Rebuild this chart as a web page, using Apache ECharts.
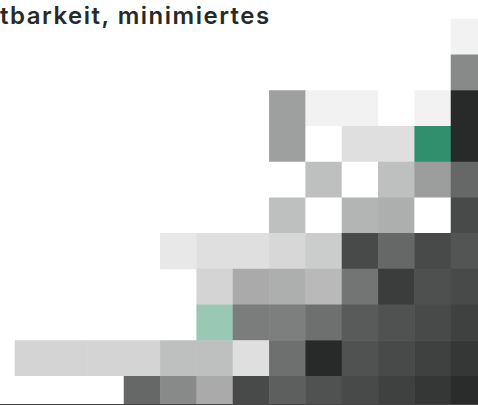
<!DOCTYPE html>
<html>
<head>
<meta charset="utf-8">
<script src="https://cdn.jsdelivr.net/npm/echarts@6/dist/echarts.min.js"></script>
<style>html,body{margin:0;padding:0;background:#fff}#c{width:478px;height:405px}#c text{letter-spacing:1.5px}</style>
</head>
<body>
<div id="c"></div>
<script>
// Column and row categories (labels not visible in the crop)
var columns = ['S1','S2','S3','S4','S5','S6','S7','S8','S9','S10','S11','S12','S13'];
var rows = ['Z1','Z2','Z3','Z4','Z5','Z6','Z7','Z8','Z9','Z10','Z11'];
// Values per row (top to bottom), '-' = no cell
var r0  = ['-','-','-','-','-','-','-','-','-','-','-','-',6];
var r1  = ['-','-','-','-','-','-','-','-','-','-','-','-',55];
var r2  = ['-','-','-','-','-','-','-',45,6,6,0,6,100];
var r3  = ['-','-','-','-','-','-','-',45,0,15,15,60,100];
var r4  = ['-','-','-','-','-','-','-',0,30,0,30,46,71];
var r5  = ['-','-','-','-','-','-','-',30,0,35,38,0,85];
var r6  = ['-','-','-','-',11,15,15,19,24,85,71,85,80];
var r7  = ['-','-','-','-','-',20,40,38,33,65,91,82,85];
var r8  = ['-','-','-','-','-',30,61,60,67,77,81,85,89];
var r9  = [20,20,20,20,30,30,15,67,100,81,85,89,94];
var r10 = [0,0,0,71,55,40,85,75,81,85,89,94,99];
var matrix = [r0,r1,r2,r3,r4,r5,r6,r7,r8,r9,r10];
// Highlighted cells [column, row]
var highlightStrong = [11,3];
var highlightLight = [5,8];
var titleText = 'tbarkeit, minimiertes';

var data = [];
matrix.forEach(function(row, yi){
  row.forEach(function(v, xi){
    if (v === '-') return;
    var item = {value:[xi, yi, v]};
    if (xi === highlightStrong[0] && yi === highlightStrong[1]) item.itemStyle = {color:'#318f6e'};
    if (xi === highlightLight[0] && yi === highlightLight[1]) item.itemStyle = {color:'#99c8b5'};
    data.push(item);
  });
});

var chart = echarts.init(document.getElementById('c'), null, {renderer:'svg'});
chart.setOption({
  animation:false,
  title:{text:titleText,left:0,top:3,padding:0,textStyle:{fontFamily:'Inter',fontWeight:600,fontSize:24,color:'#262a29'}},
  grid:[
    {left:15,top:19,width:472.3,height:393,containLabel:false,outerBoundsMode:'none'},
    {left:0,top:0,width:478,height:404,show:false,outerBoundsMode:'none'}
  ],
  xAxis:[
    {type:'category',data:columns,gridIndex:0,show:false},
    {type:'value',gridIndex:1,z:10,axisLine:{show:true,onZero:false,lineStyle:{color:'#444',width:1}},axisTick:{show:false},axisLabel:{show:false},splitLine:{show:false}}
  ],
  yAxis:[
    {type:'category',data:rows,inverse:true,gridIndex:0,show:false},
    {type:'value',gridIndex:1,show:false}
  ],
  visualMap:{show:false,min:0,max:100,dimension:2,seriesIndex:0,inRange:{color:['#ffffff','#272a29']}},
  series:[{type:'heatmap',xAxisIndex:0,yAxisIndex:0,data:data,itemStyle:{borderWidth:0}}]
});
</script>
</body>
</html>
